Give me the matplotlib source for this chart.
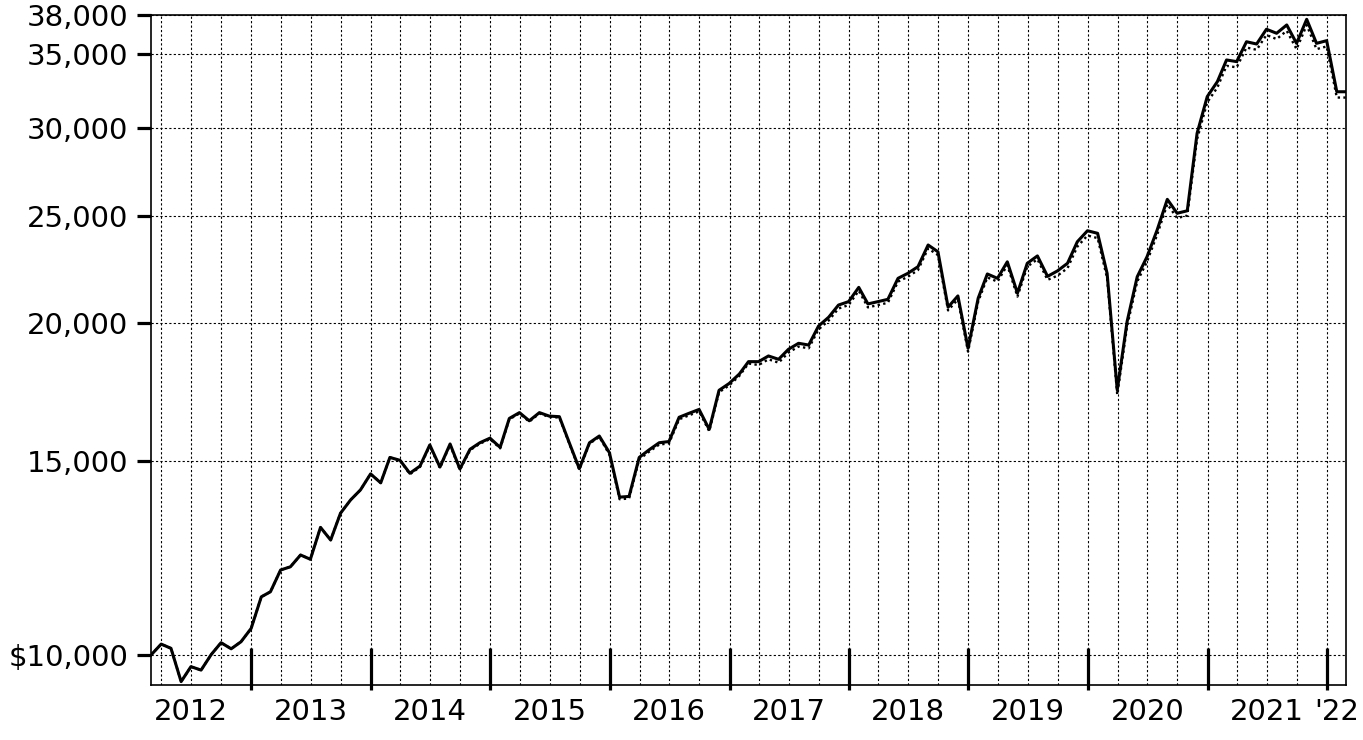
import numpy as np
import pandas as pd
import matplotlib
matplotlib.use('Agg')
import matplotlib.pyplot as plt
import matplotlib.dates as mdates
from matplotlib.ticker import FixedLocator, NullLocator, FixedFormatter

# Data: month-end growth of $10,000, Feb 2012 - Feb 2022
dates = pd.date_range('2012-02-29', '2022-02-28', freq='ME')

fund = [
    10000, 10230, 10140, 9460, 9760, 9690, 10010, 10260, 10130, 10280,
    10570, 11290, 11410, 11940, 12020, 12320, 12210, 13050, 12710, 13440,
    13820, 14110, 14590, 14320, 15100, 15010, 14610, 14830, 15500, 14800,
    15530, 14740, 15360, 15570, 15720, 15420, 16380, 16580, 16300, 16580,
    16460, 16440, 15550, 14750, 15570, 15790, 15250, 13900, 13920, 15100,
    15340, 15570, 15610, 16420, 16560, 16690, 16010, 17370, 17620, 17970,
    18440, 18440, 18660, 18530, 18920, 19160, 19090, 19860, 20230, 20750,
    20900, 21530, 20800, 20900, 21000, 21940, 22170, 22480, 23520, 23190,
    20660, 21150, 18960, 21050, 22140, 21940, 22710, 21270, 22640, 22990,
    22030, 22280, 22640, 23680, 24230, 24100, 22170, 17380, 20040, 22010,
    22950, 24270, 25870, 25130, 25260, 29690, 32050, 33070, 34600, 34480,
    35940, 35770, 36890, 36580, 37220, 35820, 37660, 35820, 36020, 32380,
    32380,
]

benchmark = [
    10000, 10230, 10140, 9460, 9760, 9690, 10010, 10260, 10130, 10280,
    10570, 11290, 11410, 11940, 12020, 12320, 12210, 13050, 12710, 13440,
    13820, 14110, 14590, 14320, 15100, 15010, 14580, 14800, 15470, 14770,
    15500, 14710, 15330, 15540, 15690, 15390, 16350, 16550, 16270, 16550,
    16430, 16410, 15520, 14720, 15540, 15760, 15190, 13840, 13860, 15040,
    15280, 15510, 15550, 16350, 16490, 16620, 15950, 17300, 17550, 17900,
    18370, 18310, 18530, 18400, 18790, 19030, 18960, 19720, 20090, 20600,
    20750, 21380, 20650, 20750, 20850, 21790, 22010, 22320, 23350, 23030,
    20520, 21000, 18830, 20900, 21980, 21790, 22550, 21120, 22480, 22830,
    21870, 22060, 22410, 23440, 23990, 23860, 21950, 17210, 19840, 21790,
    22720, 24030, 25610, 24880, 25010, 29330, 31670, 32670, 34180, 34070,
    35510, 35340, 36450, 36140, 36770, 35390, 37210, 35390, 35590, 31990,
    31990,
]

y_ticks = [10000, 15000, 20000, 25000, 30000, 35000, 38000]
y_labels = ['$10,000', '15,000', '20,000', '25,000', '30,000', '35,000', '38,000']
years = list(range(2012, 2022))
year_labels = [str(y) for y in years] + ["'22"]

fig = plt.figure(figsize=(13.63, 7.40), dpi=100)
ax = fig.add_axes([0.1108, 0.0743, 0.8767, 0.9054])

ax.plot(dates, benchmark, color='black', lw=1.7, linestyle=(0, (1, 1.4)), zorder=3)
ax.plot(dates, fund, color='black', lw=2.2, zorder=4)

ax.set_yscale('log')
ax.set_ylim(9393, 38000)
ax.set_xlim(dates[0], dates[-1])

# y axis
ax.yaxis.set_major_locator(FixedLocator(y_ticks))
ax.yaxis.set_major_formatter(FixedFormatter(y_labels))
ax.yaxis.set_minor_locator(NullLocator())
ax.tick_params(axis='y', which='major', length=10, width=2.3, pad=6.5,
               labelsize=21, direction='out')

# x axis: quarterly grid, year labels centred, long ticks at year ends
ax.xaxis.set_major_locator(mdates.MonthLocator(bymonth=[1, 4, 7, 10]))
ax.xaxis.set_major_formatter(plt.NullFormatter())
ax.tick_params(axis='x', which='major', length=0)
ax.xaxis.remove_overlapping_locs = False
mids = [pd.Timestamp(f'{y}-07-01') for y in years] + [pd.Timestamp('2022-02-01')]
ax.xaxis.set_minor_locator(FixedLocator(mdates.date2num(mids)))
ax.xaxis.set_minor_formatter(FixedFormatter(year_labels))
ax.tick_params(axis='x', which='minor', length=0, labelsize=21, pad=9)

ax.grid(True, which='major', axis='both', color='black', lw=0.8,
        linestyle=(0, (2, 2)))

year_ends = [pd.Timestamp(f'{y + 1}-01-01') for y in years]
ax.vlines(year_ends, -0.008, 0.055, transform=ax.get_xaxis_transform(),
          color='black', lw=2.3, clip_on=False, zorder=5)

for s in ax.spines.values():
    s.set_linewidth(1.2)
    s.set_color('black')

fig.savefig('out.png', dpi=100)
